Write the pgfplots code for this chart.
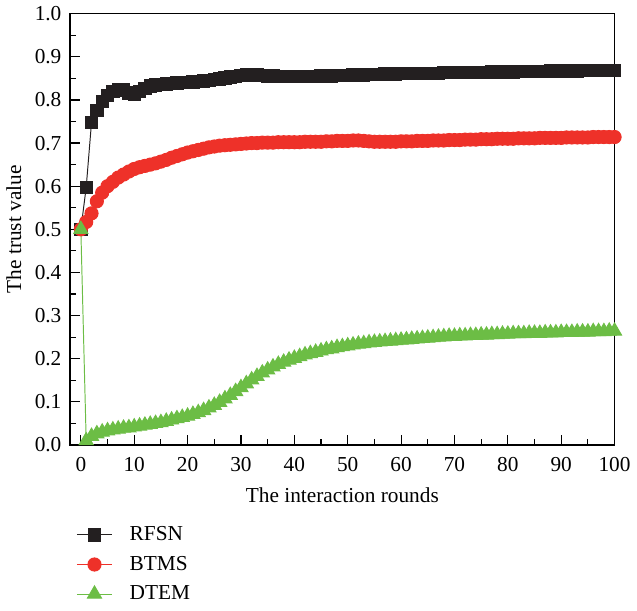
\documentclass[border=0pt]{standalone}
\usepackage{pgfplots}
\usepackage{pgfplotstable}
\pgfplotsset{compat=1.18}
\usepackage{fontspec}
\setmainfont{Liberation Serif}
\definecolor{cblack}{HTML}{231F20}
\definecolor{cred}{HTML}{EE3129}
\definecolor{cgreen}{HTML}{6CBD45}
\pgfplotstableread{
x r b d
0 0.500 0.500 0.500
1 0.597 0.517 0.010
2 0.748 0.537 0.020
3 0.776 0.565 0.026
4 0.797 0.585 0.030
5 0.811 0.600 0.033
6 0.819 0.610 0.035
7 0.824 0.620 0.037
8 0.823 0.627 0.039
9 0.816 0.634 0.040
10 0.814 0.640 0.042
11 0.819 0.644 0.044
12 0.827 0.647 0.046
13 0.832 0.650 0.048
14 0.835 0.653 0.050
15 0.836 0.657 0.052
16 0.837 0.661 0.055
17 0.838 0.666 0.058
18 0.839 0.670 0.061
19 0.840 0.674 0.064
20 0.841 0.678 0.067
21 0.842 0.681 0.071
22 0.843 0.684 0.075
23 0.844 0.687 0.080
24 0.845 0.690 0.086
25 0.847 0.692 0.092
26 0.849 0.694 0.099
27 0.851 0.695 0.107
28 0.853 0.696 0.115
29 0.855 0.697 0.124
30 0.857 0.698 0.133
31 0.858 0.699 0.142
32 0.858 0.700 0.151
33 0.858 0.700 0.159
34 0.857 0.701 0.167
35 0.856 0.701 0.174
36 0.856 0.701 0.181
37 0.855 0.702 0.187
38 0.855 0.702 0.192
39 0.855 0.702 0.197
40 0.855 0.702 0.201
41 0.855 0.702 0.205
42 0.855 0.703 0.209
43 0.855 0.703 0.212
44 0.855 0.703 0.215
45 0.856 0.703 0.218
46 0.856 0.704 0.221
47 0.856 0.704 0.223
48 0.857 0.705 0.226
49 0.857 0.705 0.228
50 0.857 0.705 0.230
51 0.858 0.706 0.232
52 0.858 0.706 0.234
53 0.858 0.705 0.235
54 0.859 0.704 0.237
55 0.859 0.703 0.238
56 0.859 0.703 0.239
57 0.860 0.703 0.240
58 0.860 0.703 0.241
59 0.860 0.703 0.242
60 0.861 0.704 0.243
61 0.861 0.704 0.244
62 0.861 0.704 0.245
63 0.861 0.705 0.246
64 0.862 0.705 0.247
65 0.862 0.705 0.248
66 0.862 0.706 0.249
67 0.862 0.706 0.250
68 0.863 0.706 0.251
69 0.863 0.707 0.252
70 0.863 0.707 0.252
71 0.863 0.707 0.253
72 0.864 0.708 0.253
73 0.864 0.708 0.254
74 0.864 0.708 0.254
75 0.864 0.709 0.255
76 0.864 0.709 0.255
77 0.865 0.709 0.256
78 0.865 0.710 0.256
79 0.865 0.710 0.257
80 0.865 0.710 0.257
81 0.865 0.710 0.258
82 0.866 0.711 0.258
83 0.866 0.711 0.258
84 0.866 0.711 0.259
85 0.866 0.711 0.259
86 0.866 0.712 0.259
87 0.866 0.712 0.260
88 0.867 0.712 0.260
89 0.867 0.712 0.260
90 0.867 0.712 0.261
91 0.867 0.713 0.261
92 0.867 0.713 0.261
93 0.867 0.713 0.262
94 0.868 0.713 0.262
95 0.868 0.713 0.262
96 0.868 0.714 0.263
97 0.868 0.714 0.263
98 0.868 0.714 0.263
99 0.868 0.714 0.264
100 0.868 0.714 0.264
}\datatable
\begin{document}
\begin{tikzpicture}[font=\fontsize{11}{13}\selectfont]
\begin{axis}[
  scale only axis,
  width=281pt, height=222.6pt,
  xmin=-2, xmax=100, ymin=0, ymax=1,
  xtick={0,10,...,100},
  ytick={0,0.1,...,1.0},
  minor x tick num=1, minor y tick num=1,
  tick align=inside,
  xtick pos=bottom, ytick pos=left,
  major tick length=5pt, minor tick length=3pt,
  tick style={black, line width=0.6pt},
  axis line style={black, line width=0.7pt},
  tick label style={font=\fontsize{11}{13}\selectfont},
  label style={font=\fontsize{11}{13}\selectfont},
  yticklabel style={/pgf/number format/fixed, /pgf/number format/fixed zerofill, /pgf/number format/precision=1, xshift=-1pt},
  xticklabel style={yshift=-3pt},
  /pgf/number format/assume math mode=true,
  xlabel={The interaction rounds},
  ylabel={The trust value},
  xlabel style={yshift=-1pt},
  ylabel style={yshift=0pt},
  legend style={at={(0,-0.17)}, anchor=north west, draw=none, fill=none, row sep=2.5pt, font=\fontsize{11}{13}\selectfont},
  legend cell align=left,
  legend image code/.code={
    \draw[mark repeat=2,mark phase=2] plot coordinates {(0cm,0cm) (0.32cm,0cm) (0.64cm,0cm)};
    \path (0.88cm,0cm);
  },
]
\addplot[cblack, line width=0.5pt, mark=square*, mark size=3.2pt, mark options={fill=cblack, draw=cblack}] table[x=x,y=r]{\datatable};
\addlegendentry{RFSN}
\addplot[cred, line width=0.5pt, mark=*, mark size=3.4pt, mark options={fill=cred, draw=cred}] table[x=x,y=b]{\datatable};
\addlegendentry{BTMS}
\addplot[cgreen, line width=0.5pt, mark=triangle*, mark size=4.2pt, mark options={fill=cgreen, draw=cgreen}] table[x=x,y=d]{\datatable};
\addlegendentry{DTEM}
\end{axis}
\end{tikzpicture}
\end{document}
